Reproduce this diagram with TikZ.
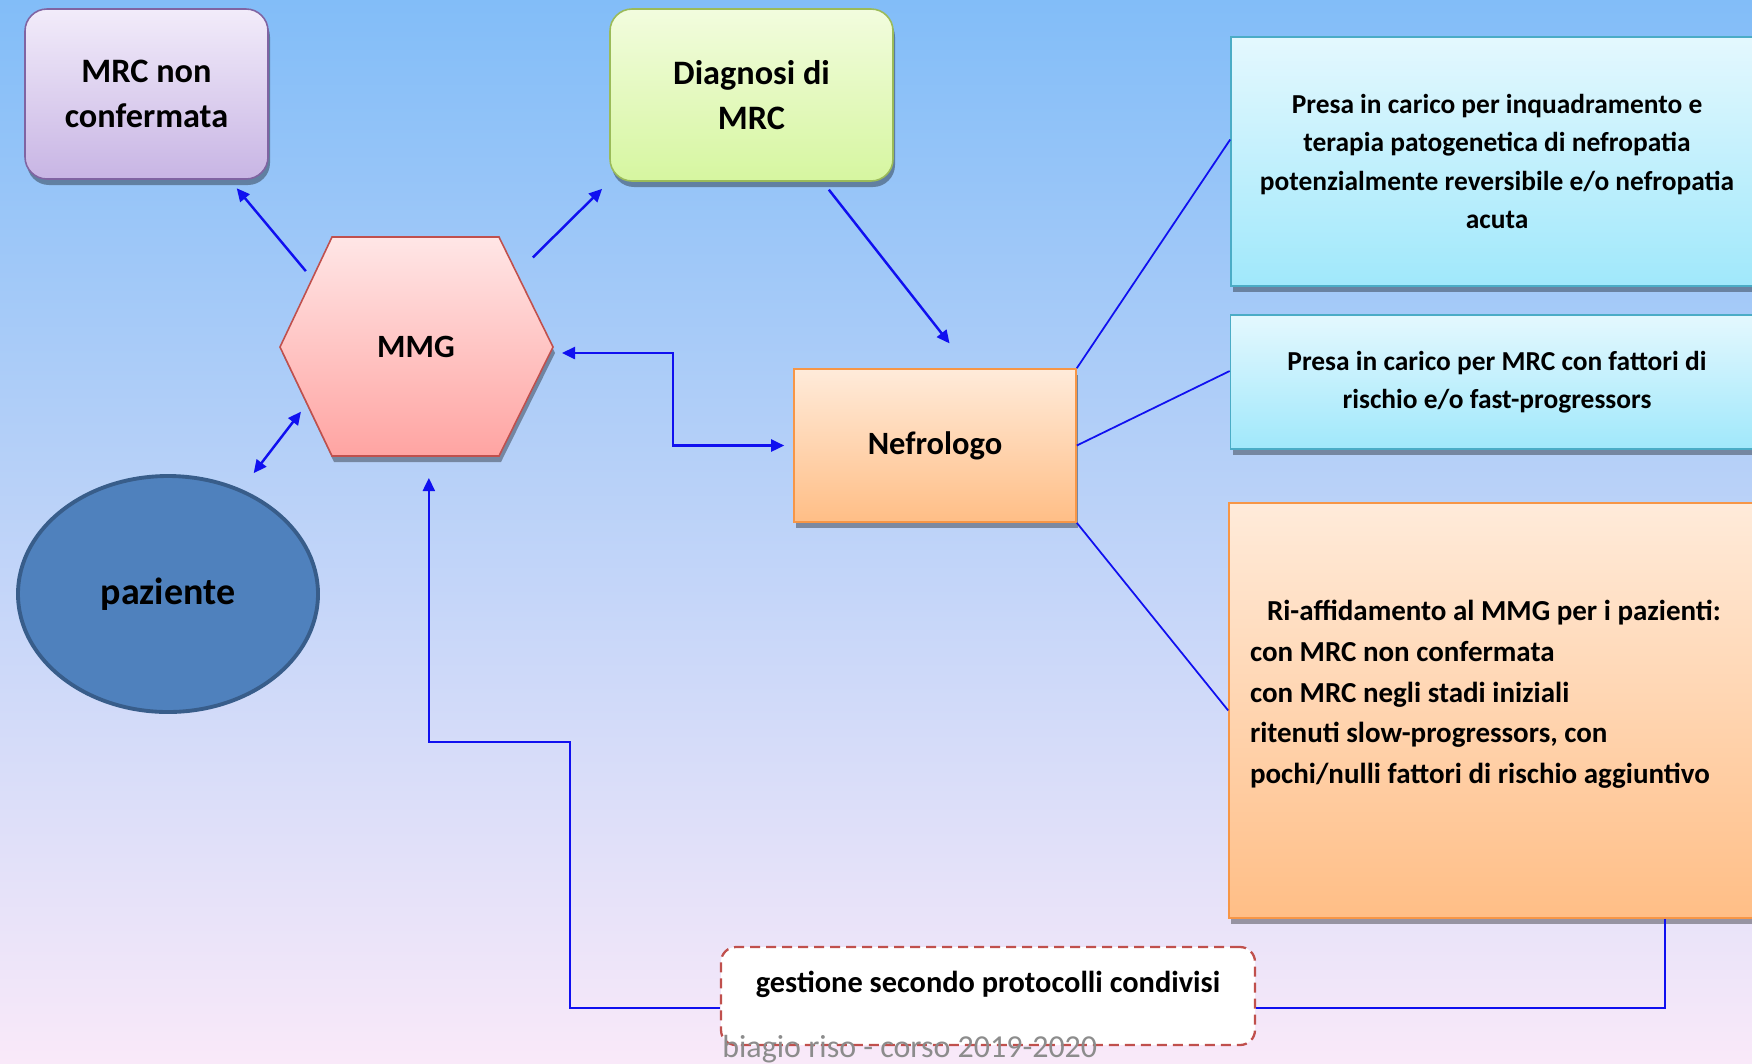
\documentclass[tikz,border=0pt]{standalone}
\usepackage{fontspec}
\setmainfont{Carlito}
\usepackage{tikz}
\usetikzlibrary{calc,positioning,shapes.geometric,shadows,arrows.meta}
\definecolor{bgtop}{RGB}{130,189,248}
\definecolor{bgmid}{RGB}{216,227,243}
\definecolor{bgbot}{RGB}{249,233,249}
\definecolor{lilactop}{RGB}{242,236,250}
\definecolor{lilacbot}{RGB}{200,181,228}
\definecolor{lilacline}{RGB}{128,100,162}
\definecolor{greentop}{RGB}{242,252,222}
\definecolor{greenbot}{RGB}{214,246,160}
\definecolor{greenline}{RGB}{155,187,89}
\definecolor{pinktop}{RGB}{255,230,230}
\definecolor{pinkbot}{RGB}{255,164,162}
\definecolor{pinkline}{RGB}{192,80,77}
\definecolor{orangetop}{RGB}{255,235,218}
\definecolor{orangebot}{RGB}{255,190,134}
\definecolor{orangeline}{RGB}{247,150,70}
\definecolor{cyantop}{RGB}{228,248,254}
\definecolor{cyanbot}{RGB}{160,232,251}
\definecolor{cyanline}{RGB}{75,172,198}
\definecolor{pazfill}{RGB}{79,129,189}
\definecolor{pazline}{RGB}{56,93,138}
\definecolor{linkblue}{RGB}{16,16,240}
\definecolor{footgray}{RGB}{140,140,140}
\tikzset{
    % 箭头样式
    bluearrow/.style={
        line width=1.4pt,
        linkblue,
        ->,
        >={Triangle[length=2.6mm, width=2.4mm]}
    },
    bluedarrow/.style={
        line width=1.4pt,
        linkblue,
        <->,
        >={Triangle[length=2.6mm, width=2.4mm]}
    },
    blueline/.style={line width=1pt, linkblue},
    % 方框样式
    boxshadow/.style={drop shadow={shadow xshift=0.4mm, shadow yshift=-1.2mm, fill=black, opacity=0.35}},
    lilacbox/.style={draw=lilacline, line width=0.9pt, rounded corners=4.4mm,
        top color=lilactop, bottom color=lilacbot, boxshadow, align=center,
        font={\bfseries\fontsize{19.5}{25.6}\selectfont}},
    greenbox/.style={draw=greenline, line width=0.9pt, rounded corners=4.4mm,
        top color=greentop, bottom color=greenbot, boxshadow, align=center,
        font={\bfseries\fontsize{19.5}{25.6}\selectfont}},
    orangebox/.style={draw=orangeline, line width=0.9pt,
        top color=orangetop, bottom color=orangebot, boxshadow},
    cyanbox/.style={draw=cyanline, line width=0.9pt,
        top color=cyantop, bottom color=cyanbot, boxshadow, align=center,
        font={\bfseries\fontsize{15.6}{21.8}\selectfont}},
    dashbox/.style={draw=pinkline, line width=1.3pt, dash pattern=on 2mm off 1.2mm,
        rounded corners=3mm, fill=white,
        font={\bfseries\fontsize{17.3}{22}\selectfont}}
}
\begin{document}
\begin{tikzpicture}[x=0.2mm,y=-0.2mm]
    \useasboundingbox (0,0) rectangle (1752,1063);
    \clip (0,0) rectangle (1752,1063);
    % ===================== 背景 =====================
    \shade[top color=bgtop, middle color=bgmid, bottom color=bgbot] (0,0) rectangle (1752,1063);

    % ===================== 左侧方框 =====================
    \node[lilacbox, minimum width=48.6mm, minimum height=34mm] (mrc) at (146.5,94) {MRC non\\confermata};
    \node[greenbox, minimum width=56.6mm, minimum height=34.4mm] (diag) at (751.5,95) {Diagnosi di\\MRC};

    % 六边形 MMG
    \path
    (280,347) coordinate (hw)
    (332,237) coordinate (hnw)
    (499,237) coordinate (hne)
    (553,347) coordinate (he)
    (499,456) coordinate (hse)
    (332,456) coordinate (hsw);
    \draw[pinkline, line width=0.9pt, top color=pinktop, bottom color=pinkbot, boxshadow]
    (hw) -- (hnw) -- (hne) -- (he) -- (hse) -- (hsw) -- cycle;
    \node[font={\bfseries\fontsize{18.5}{22}\selectfont}] (mmg) at (416,347) {MMG};

    \node[orangebox, minimum width=56.4mm, minimum height=30.6mm,
        font={\bfseries\fontsize{18.5}{22}\selectfont}] (nefro) at (935,445.5) {Nefrologo};

    \node[ellipse, draw=pazline, line width=2.2pt, fill=pazfill, minimum width=60mm, minimum height=47.2mm,
        font={\bfseries\fontsize{21.6}{26}\selectfont}] (paz) at (168,594) {paziente};

    % ===================== 右侧方框 =====================
    \node[cyanbox, minimum width=106.4mm, minimum height=49.8mm] (presa1) at (1497,161.5)
    {Presa in carico per inquadramento e\\terapia patogenetica di nefropatia\\potenzialmente reversibile e/o nefropatia\\acuta};
    \node[cyanbox, minimum width=106.6mm, minimum height=26.8mm] (presa2) at (1497,382)
    {Presa in carico per MRC con fattori di\\rischio e/o fast-progressors};
    \node[orangebox, minimum width=106.8mm, minimum height=83mm, text width=98.4mm, align=flush left,
        font={\bfseries\fontsize{16.5}{23.1}\selectfont}] (riaff) at (1496,710.5)
    {\hspace*{3.4mm}Ri-affidamento al MMG per i pazienti:\\con MRC non confermata\\con MRC negli stadi iniziali\\ritenuti slow-progressors, con\\pochi/nulli fattori di rischio aggiuntivo\\[-2pt]\mbox{}};

    \node[dashbox, minimum width=106.8mm, minimum height=19.6mm, text depth=5.6mm] (gest) at (988,996)
    {gestione secondo protocolli condivisi};

    % ===================== 箭头 =====================
    \draw[bluearrow, shorten <=2mm, shorten >=2.2mm] ($(hw)!.62!(hnw)$) -- ($(mrc.south west)!.84!(mrc.south east)$);
    \draw[bluearrow, shorten <=4.5mm, shorten >=2mm] ($(hne)!.33!(he)$) -- (diag.south west);
    \draw[bluearrow, shorten <=2mm, shorten >=6.3mm] ($(diag.south west)!.75!(diag.south east)$) -- ($(nefro.north west)!.62!(nefro.north east)$);
    \draw[bluedarrow, shorten <=1.8mm, shorten >=1.8mm] ([yshift=-1.2mm]he) -| ($(he)!.5!(nefro.west)$) |- (nefro.west);
    \draw[bluedarrow, shorten <=4mm, shorten >=2mm] (paz.55) -- ($(hw)!.52!(hsw)$);
    \draw[bluearrow, shorten >=4.4mm] ([yshift=-2.4mm]gest.west) -- ++(-150,0) -- ++(0,-266) -| ($(hsw)!.58!(hse)$);
    \draw[blueline] ([xshift=33.8mm]riaff.south) |- ([yshift=-2.4mm]gest.east);

    % 肾科医生 -> 右侧方框
    \draw[blueline] (nefro.north east) -- ([yshift=4.4mm]presa1.west);
    \draw[blueline] (nefro.east) -- ([yshift=2.2mm]presa2.west);
    \draw[blueline] (nefro.south east) -- (riaff.west);

    % 页脚
    \node[anchor=base west, inner sep=0pt, text=footgray, font={\fontsize{18.2}{22}\selectfont}] (footer) at (722,1057)
    {biagio riso - corso 2019-2020};
\end{tikzpicture}
\end{document}
